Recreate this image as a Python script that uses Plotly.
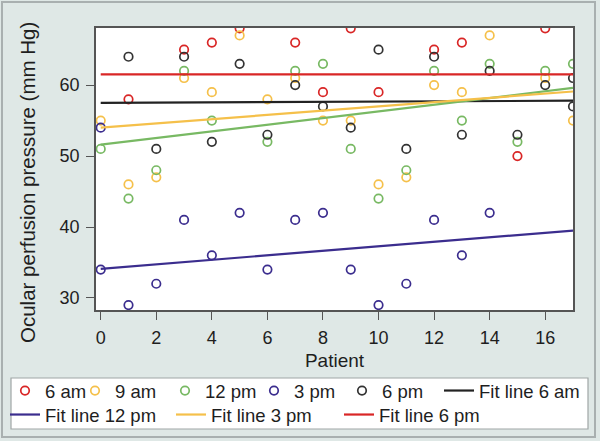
import plotly.graph_objects as go

# ---- data ----
am6_x = [1, 3, 4, 5, 7, 8, 9, 10, 12, 13, 15, 16]
am6_y = [58, 65, 66, 68, 66, 59, 68, 59, 65, 66, 50, 68]

am9_x = [0, 1, 2, 3, 4, 5, 6, 7, 8, 9, 10, 11, 12, 13, 14, 16, 17]
am9_y = [55, 46, 47, 61, 59, 67, 58, 61, 55, 55, 46, 47, 60, 59, 67, 61, 55]

pm12_x = [0, 1, 2, 3, 4, 6, 7, 8, 9, 10, 11, 12, 13, 14, 15, 16, 17]
pm12_y = [51, 44, 48, 62, 55, 52, 62, 63, 51, 44, 48, 62, 55, 63, 52, 62, 63]

pm3_x = [0, 0, 1, 2, 3, 4, 5, 6, 7, 8, 9, 10, 11, 12, 13, 14]
pm3_y = [54, 34, 29, 32, 41, 36, 42, 34, 41, 42, 34, 29, 32, 41, 36, 42]

pm6_x = [1, 2, 3, 4, 5, 6, 7, 8, 9, 10, 11, 12, 13, 14, 15, 16, 17, 17]
pm6_y = [64, 51, 64, 52, 63, 53, 60, 57, 54, 65, 51, 64, 53, 62, 53, 60, 61, 57]

fit_x = [0, 17]
fit_6am = [57.5, 57.8]     # black
fit_9am = [51.6, 59.6]     # green (not in legend)
fit_12pm = [34.1, 39.5]    # navy
fit_3pm = [54.0, 59.1]     # yellow
fit_6pm = [61.5, 61.5]     # red

x_ticks = [0, 2, 4, 6, 8, 10, 12, 14, 16]
y_ticks = [30, 40, 50, 60]

RED = "#d92626"
YEL = "#f5c04a"
GRN = "#78b963"
NAV = "#3b2d8e"
BLK = "#333333"
FONT = "Liberation Sans, Arial, sans-serif"
TXT = "#1e1e1e"

L, R, T, B = 96, 27, 28, 131
W, H = 600, 441
pw, ph = W - L - R, H - T - B

def px2x(px):
    return (px - L) / pw

def py2y(py):
    return (H - B - py) / ph

fig = go.Figure()

def pts(x, y, name, color, lg):
    fig.add_trace(go.Scatter(
        x=x, y=y, mode="markers", name=name, legend=lg,
        marker=dict(symbol="circle-open", size=8.5, color=color, line=dict(width=1.7, color=color)),
    ))

def line(y, name, color, lg, show=True):
    fig.add_trace(go.Scatter(
        x=fit_x, y=y, mode="lines", name=name, legend=lg, showlegend=show,
        line=dict(color=color, width=2.2),
    ))

pts(am6_x, am6_y, "6 am", RED, "legend")
pts(am9_x, am9_y, "9 am", YEL, "legend2")
pts(pm12_x, pm12_y, "12 pm", GRN, "legend3")
pts(pm3_x, pm3_y, "3 pm", NAV, "legend4")
pts(pm6_x, pm6_y, "6 pm", BLK, "legend5")

line(fit_6am, "Fit line 6 am", "#222222", "legend6")
line(fit_9am, "Fit line 9 am", GRN, "legend6", show=False)
line(fit_12pm, "Fit line 12 pm", NAV, "legend7")
line(fit_3pm, "Fit line 3 pm", YEL, "legend8")
line(fit_6pm, "Fit line 6 pm", RED, "legend9")

# legend item placement (text start px, row centre py)
row1 = 391
row2 = 415
legend_pos = {
    "legend": (43, row1), "legend2": (113, row1), "legend3": (203, row1),
    "legend4": (292, row1), "legend5": (380, row1), "legend6": (477, row1),
    "legend7": (43, row2), "legend8": (209, row2), "legend9": (377, row2),
}
legends = {}
for key, (tx, ty) in legend_pos.items():
    legends[key] = dict(
        orientation="h", x=px2x(tx - 38), xanchor="left", y=py2y(ty), yanchor="middle",
        bgcolor="rgba(0,0,0,0)", borderwidth=0,
        font=dict(family=FONT, size=18.5, color=TXT), itemwidth=30,
    )

axis_common = dict(
    showline=True, linecolor="#555555", linewidth=1.5, mirror=True,
    ticks="outside", ticklen=8, tickwidth=1.2, tickcolor="#555555",
    showgrid=False, zeroline=False, ticklabelstandoff=3,
    tickfont=dict(family=FONT, size=18, color=TXT),
)

fig.update_layout(
    width=W, height=H,
    showlegend=True,
    margin=dict(l=L, r=R, t=T, b=B, autoexpand=False),
    paper_bgcolor="#dfe8e6",
    plot_bgcolor="white",
    font=dict(family=FONT, color=TXT),
    xaxis=dict(range=[-0.17, 17.0], tickvals=x_ticks,
               title=dict(text="Patient", font=dict(family=FONT, size=19, color=TXT), standoff=6),
               **axis_common),
    yaxis=dict(range=[28.3, 68.05], tickvals=y_ticks, **axis_common),
    annotations=[dict(
        text="Ocular perfusion pressure (mm Hg)", textangle=-90,
        xref="paper", yref="paper", x=px2x(27), y=py2y(183),
        xanchor="center", yanchor="middle", showarrow=False,
        font=dict(family=FONT, size=20.5, color=TXT),
    )],
    shapes=[
        dict(type="rect", xref="paper", yref="paper", layer="below",
             x0=px2x(2), x1=px2x(595), y0=py2y(437), y1=py2y(2),
             line=dict(color="#a9b0b0", width=2), fillcolor="rgba(0,0,0,0)"),
        dict(type="rect", xref="paper", yref="paper", layer="below",
             x0=px2x(11), x1=px2x(588), y0=py2y(429), y1=py2y(378),
             line=dict(color="#a0a6a6", width=1.2), fillcolor="white"),
    ],
    **legends,
)

fig.write_html("out.html", config={"displayModeBar": False},
               post_script="document.body.style.margin='0';document.body.style.padding='0';")
